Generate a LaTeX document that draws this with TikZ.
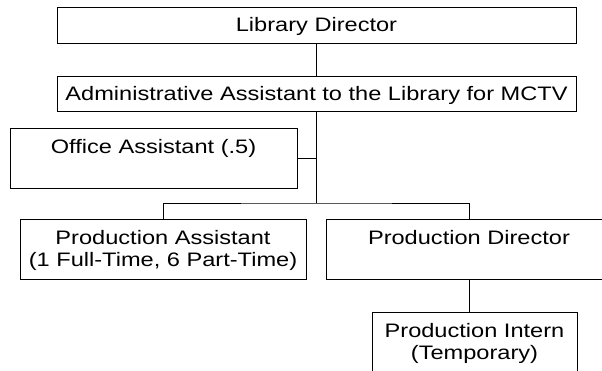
\documentclass[tikz,border=0pt]{standalone}
\usepackage{fontspec}
\setmainfont{Liberation Sans}[FakeStretch=1.21]
\newcommand{\orgstrut}{\rule[-4.7pt]{0pt}{22.4pt}}
\begin{document}
\begin{tikzpicture}[x=1pt,y=-1pt,
  orgbox/.style={draw=black,line width=0.9pt,inner sep=0pt,align=center,
    font=\fontsize{19.5pt}{22.4pt}\selectfont},
  orgline/.style={draw=black,line width=0.9pt}]
\useasboundingbox (0,0) rectangle (602,370);
\clip (0,0) rectangle (602,370);
\node[orgbox,minimum width=519pt,minimum height=36pt] (LD) at (316.5,25) {\orgstrut Library Director};
\node[orgbox,minimum width=519pt,minimum height=35pt] (AA) at (316.5,93.5) {\orgstrut Administrative Assistant to the Library for MCTV};
\node[orgbox,minimum width=287pt,minimum height=60pt] (OA) at (153.5,158) {\orgstrut Office Assistant (.5)\\\orgstrut};
\node[orgbox,minimum width=286pt,minimum height=60pt] (PA) at (163,249) {\orgstrut Production Assistant\\\orgstrut(1 Full-Time, 6 Part-Time)};
\node[orgbox,minimum width=286pt,minimum height=60pt] (PD) at (469,249) {\orgstrut Production Director\\\orgstrut};
\node[orgbox,minimum width=205pt,minimum height=59.4pt] (PI) at (474.5,341.7) {\orgstrut Production Intern\\\orgstrut(Temporary)};
\coordinate (bus) at (316.5,203);
\draw[orgline] (LD.south) -- (AA.north);
\draw[orgline] (AA.south) -- (bus);
\draw[orgline] (OA.east) -- (OA.east -| AA.south);
\draw[orgline] (PA.north) |- (bus) -| (PD.north);
\draw[orgline] (PD.south) -- (PD.south |- PI.north);
\end{tikzpicture}
\end{document}
